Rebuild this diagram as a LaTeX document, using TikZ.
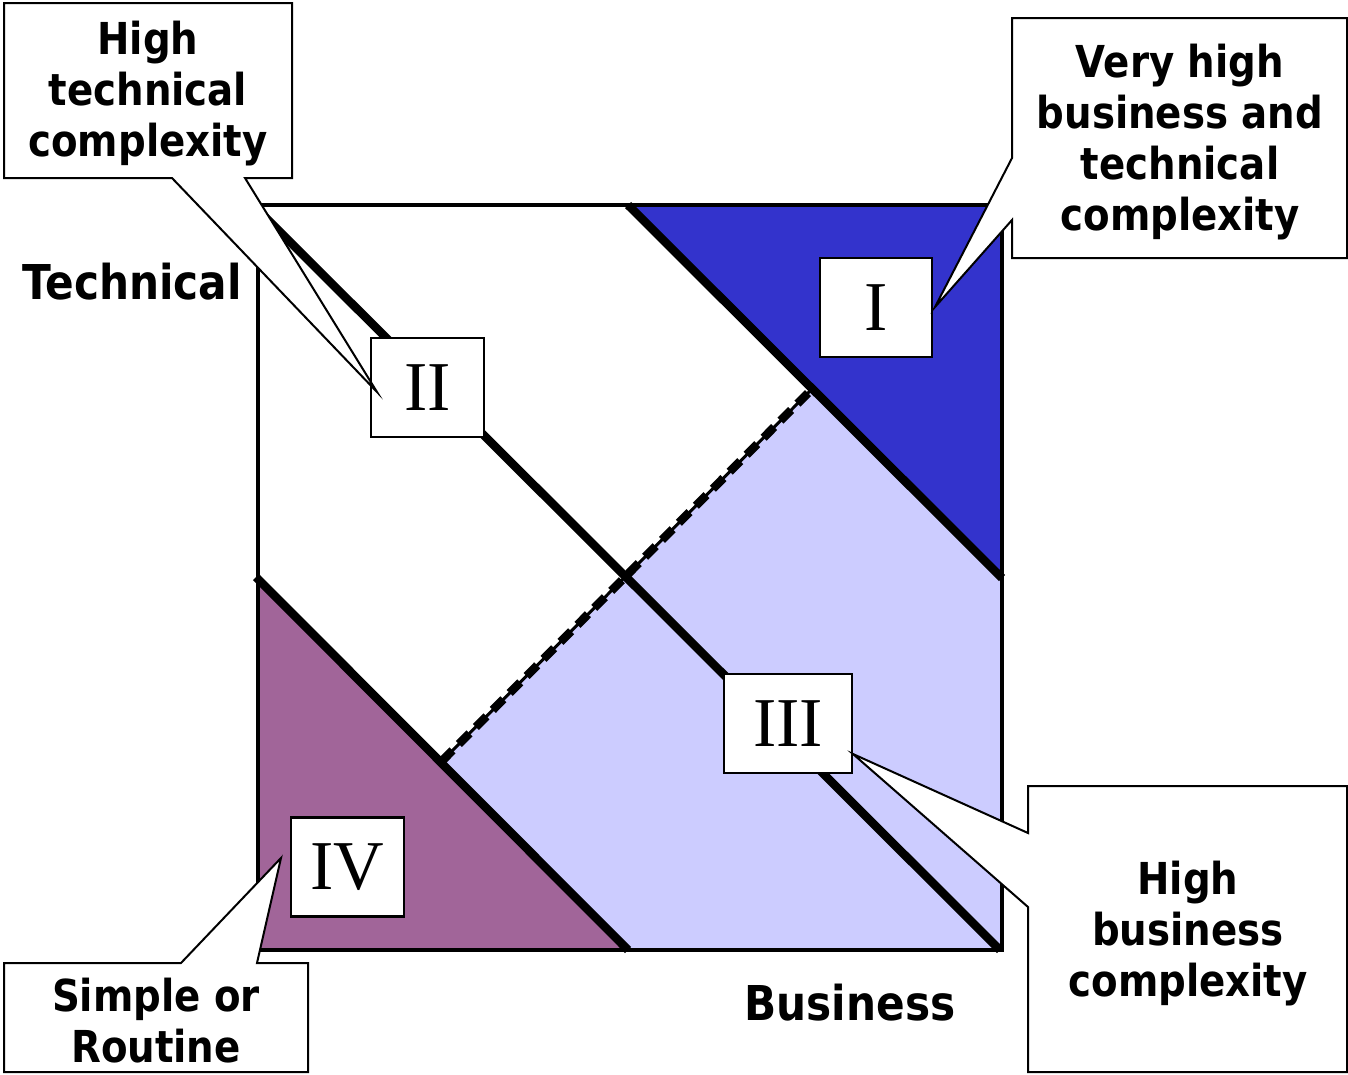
\documentclass[tikz,border=0pt]{standalone}
\usepackage{fontspec}
\newfontfamily\lab{DejaVu Sans}[FakeStretch=0.88]
\newfontfamily\numf{Liberation Serif}
\definecolor{darkblue}{RGB}{51,51,204}
\definecolor{lightlav}{RGB}{204,204,255}
\definecolor{mauve}{RGB}{161,101,153}
\tikzset{
  numbox/.style={draw, fill=white, line width=2.5pt, inner sep=0pt, minimum height=99pt, font=\numf\fontsize{70}{70}\selectfont},
  callout/.style={draw, fill=white, line width=2pt, line join=miter},
  calltext/.style={align=center, inner sep=0pt, font=\lab\bfseries\fontsize{44}{51}\selectfont},
  axislab/.style={inner sep=0pt, font=\lab\bfseries\fontsize{48}{51}\selectfont},
  diag/.style={line width=8.5pt},
}
\begin{document}
\begin{tikzpicture}[x=1pt,y=-1pt]
\useasboundingbox (0,0) rectangle (1348,1074);
% key points
\coordinate (TL) at (258,205);
\coordinate (TR) at (1002,205);
\coordinate (BR) at (1002,950);
\coordinate (BL) at (258,950);
\coordinate (UA) at (628,205);
\coordinate (UB) at (1002,578);
\coordinate (LA) at (256,577);
\coordinate (LB) at (628,950);
\coordinate (MA) at (262,214);
\coordinate (MB) at (1000,950);
\coordinate (DA) at (442,761);
\coordinate (DB) at (812,389);
% fills
\fill[darkblue] (UA) -- (TR) -- (UB) -- cycle;
\fill[lightlav] (DB) -- (UB) -- (BR) -- (LB) -- (DA) -- cycle;
\fill[mauve] (258,578) -- (BL) -- (LB) -- cycle;
% square
\draw[line width=4.5pt] (TL) rectangle (BR);
% diagonals
\draw[diag] (MA) -- (MB);
\draw[diag] (UA) -- (UB);
\draw[diag] (LA) -- (LB);
% dashed
\draw[line width=3pt] (DA) -- (DB);
\draw[line width=8.5pt, dash pattern=on 15pt off 9pt] (DA) -- (DB);
% numeral boxes
\node[numbox, minimum width=112pt] (n1) at (876,307.5) {I};
\node[numbox, minimum width=113pt] (n2) at (427.5,387.5) {II};
\node[numbox, minimum width=128pt] (n3) at (788,723.5) {III};
\node[numbox, minimum width=113pt] (n4) at (347.5,867) {IV};
% axis labels
\node[axislab] (tech) at (132,282) {Technical};
\node[axislab] (bus) at (850,1003) {Business};
% callouts
\coordinate (t2) at (377,392);
\coordinate (t1) at (935,307);
\coordinate (t4) at (281,858);
\coordinate (t3) at (853,754);
\draw[callout] (4,3) -- (292,3) -- (292,178) -- (245,178) -- (t2) -- (172,178) -- (4,178) -- cycle;
\draw[callout] (1012,18) -- (1347,18) -- (1347,258) -- (1012,258) -- (1012,220) -- (t1) -- (1012,158) -- cycle;
\draw[callout] (4,963) -- (181,963) -- (t4) -- (257,963) -- (308,963) -- (308,1072) -- (4,1072) -- cycle;
\draw[callout] (1028,786) -- (1347,786) -- (1347,1072) -- (1028,1072) -- (1028,907) -- (t3) -- (1028,833) -- cycle;
\node[calltext] (c2) at (148,94) {High\\technical\\complexity};
\node[calltext] (c1) at (1180,142) {Very high\\business and\\technical\\complexity};
\node[calltext] (c4) at (156,1021) {Simple or\\Routine};
\node[calltext] (c3) at (1188,934) {High\\business\\complexity};
\end{tikzpicture}
\end{document}
